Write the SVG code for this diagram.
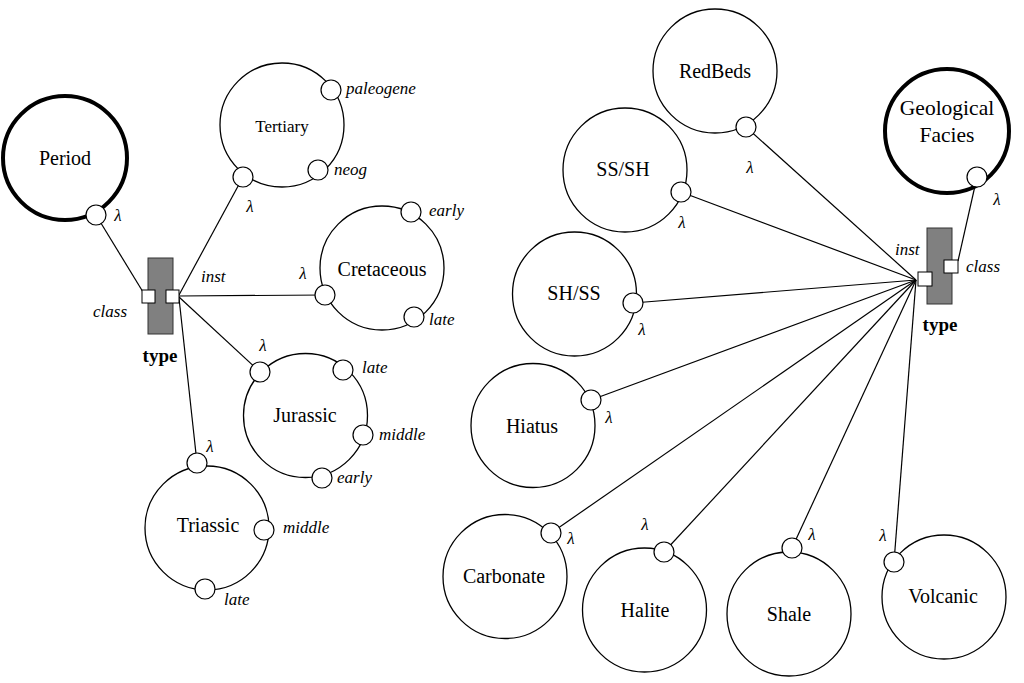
<svg xmlns="http://www.w3.org/2000/svg" width="1024" height="683" viewBox="0 0 1024 683">
<style>
.node{fill:#fff;stroke:#000;stroke-width:1.3}
.main{fill:#fff;stroke:#000;stroke-width:4}
.port{fill:#fff;stroke:#000;stroke-width:1.2}
.sq{fill:#fff;stroke:#000;stroke-width:1}
.bar{fill:#808080;stroke:#333;stroke-width:1}
.conn line{stroke:#000;stroke-width:1.2}
text{font-family:'Liberation Serif','Times New Roman',Tinos,'DejaVu Serif',serif;fill:#000}
.t{font-size:20px;text-anchor:middle}
.lab{font-size:17px;font-style:italic}
.lam{font-size:17px;font-style:italic;text-anchor:middle}
.ty{font-size:19px;font-weight:bold;text-anchor:middle}
</style>
<rect width="1024" height="683" fill="#fff"/>
<g id="connectors" class="conn">
<line x1="96" y1="215" x2="143" y2="292"/>
<line x1="179" y1="295" x2="243" y2="177"/>
<line x1="179" y1="296" x2="325" y2="295"/>
<line x1="179" y1="297" x2="260" y2="372"/>
<line x1="179" y1="298" x2="197" y2="463"/>
<line x1="977" y1="177" x2="958" y2="261"/>
<line x1="746" y1="127" x2="916" y2="280"/>
<line x1="681" y1="192" x2="916" y2="280"/>
<line x1="633" y1="303" x2="916" y2="280"/>
<line x1="591" y1="400" x2="916" y2="280"/>
<line x1="551" y1="533" x2="916" y2="280"/>
<line x1="664" y1="552" x2="916" y2="280"/>
<line x1="792" y1="548" x2="916" y2="280"/>
<line x1="894" y1="562" x2="916" y2="280"/>
</g>
<g id="period">
<circle class="main" cx="65" cy="158" r="62"/>
<text class="t" x="65" y="165" font-size="21.5">Period</text>
<circle class="port" cx="96" cy="215" r="10"/>
<text class="lam" x="118" y="221">λ</text>
</g>
<g id="type-left">
<rect class="bar" x="148" y="258" width="25" height="76"/>
<rect class="sq" x="142" y="290" width="13" height="13"/>
<rect class="sq" x="166" y="290" width="13" height="13"/>
<text class="lab" x="127" y="317" text-anchor="end">class</text>
<text class="lab" x="201" y="282">inst</text>
<text class="ty" x="160" y="362">type</text>
</g>
<g id="tertiary">
<circle class="node" cx="282" cy="125" r="62"/>
<text class="t" x="282" y="132" style="font-size:17px">Tertiary</text>
<circle class="port" cx="331" cy="90" r="10"/>
<text class="lab" x="346" y="94">paleogene</text>
<circle class="port" cx="318" cy="170" r="10"/>
<text class="lab" x="334" y="175">neog</text>
<circle class="port" cx="243" cy="177" r="10"/>
<text class="lam" x="250" y="212">λ</text>
</g>
<g id="cretaceous">
<circle class="node" cx="382" cy="268" r="62"/>
<text class="t" x="382" y="276">Cretaceous</text>
<circle class="port" cx="411" cy="212" r="10"/>
<text class="lab" x="429" y="216">early</text>
<circle class="port" cx="414" cy="317" r="10"/>
<text class="lab" x="429" y="325">late</text>
<circle class="port" cx="325" cy="295" r="10"/>
<text class="lam" x="303" y="279">λ</text>
</g>
<g id="jurassic">
<circle class="node" cx="305.5" cy="415.5" r="62"/>
<text class="t" x="305" y="422">Jurassic</text>
<circle class="port" cx="260" cy="372" r="10"/>
<text class="lam" x="263" y="351">λ</text>
<circle class="port" cx="343" cy="370" r="10"/>
<text class="lab" x="362" y="373">late</text>
<circle class="port" cx="363" cy="435" r="10"/>
<text class="lab" x="379" y="440">middle</text>
<circle class="port" cx="322" cy="478" r="10"/>
<text class="lab" x="337" y="483">early</text>
</g>
<g id="triassic">
<circle class="node" cx="207" cy="528" r="62"/>
<text class="t" x="208" y="532">Triassic</text>
<circle class="port" cx="197" cy="463" r="10"/>
<text class="lam" x="210" y="452">λ</text>
<circle class="port" cx="264" cy="530" r="10"/>
<text class="lab" x="283" y="533">middle</text>
<circle class="port" cx="205" cy="589" r="10"/>
<text class="lab" x="224" y="605">late</text>
</g>
<g id="geological-facies">
<circle class="main" cx="947" cy="131" r="62"/>
<text class="t" x="947" y="115" style="font-size:21.5px">Geological</text>
<text class="t" x="947" y="142" style="font-size:21.5px">Facies</text>
<circle class="port" cx="977" cy="177" r="10"/>
<text class="lam" x="997" y="205">λ</text>
</g>
<g id="type-right">
<rect class="bar" x="927" y="228" width="25" height="76"/>
<rect class="sq" x="944" y="260" width="14" height="13"/>
<rect class="sq" x="918" y="272" width="14" height="14"/>
<text class="lab" x="895" y="255">inst</text>
<text class="lab" x="966" y="272">class</text>
<text class="ty" x="940" y="331">type</text>
</g>
<g id="redbeds">
<circle class="node" cx="715" cy="71" r="62"/>
<text class="t" x="715" y="78">RedBeds</text>
<circle class="port" cx="746" cy="127" r="10"/>
<text class="lam" x="750" y="173">λ</text>
</g>
<g id="ss-sh">
<circle class="node" cx="625" cy="170" r="62"/>
<text class="t" x="623" y="176">SS/SH</text>
<circle class="port" cx="681" cy="192" r="10"/>
<text class="lam" x="682" y="228">λ</text>
</g>
<g id="sh-ss">
<circle class="node" cx="574.5" cy="294" r="62"/>
<text class="t" x="574" y="300">SH/SS</text>
<circle class="port" cx="633" cy="303" r="10"/>
<text class="lam" x="642" y="335">λ</text>
</g>
<g id="hiatus">
<circle class="node" cx="533" cy="425.5" r="62"/>
<text class="t" x="532" y="433">Hiatus</text>
<circle class="port" cx="591" cy="400" r="10"/>
<text class="lam" x="609" y="423">λ</text>
</g>
<g id="carbonate">
<circle class="node" cx="505" cy="576.5" r="62"/>
<text class="t" x="504" y="583">Carbonate</text>
<circle class="port" cx="551" cy="533" r="10"/>
<text class="lam" x="571" y="544">λ</text>
</g>
<g id="halite">
<circle class="node" cx="644.5" cy="610" r="62"/>
<text class="t" x="645" y="617">Halite</text>
<circle class="port" cx="664" cy="552" r="10"/>
<text class="lam" x="645" y="530">λ</text>
</g>
<g id="shale">
<circle class="node" cx="789" cy="614" r="62"/>
<text class="t" x="789" y="621">Shale</text>
<circle class="port" cx="792" cy="548" r="10"/>
<text class="lam" x="812" y="540">λ</text>
</g>
<g id="volcanic">
<circle class="node" cx="944" cy="597" r="62"/>
<text class="t" x="943" y="603">Volcanic</text>
<circle class="port" cx="894" cy="562" r="10"/>
<text class="lam" x="883" y="541">λ</text>
</g>
</svg>
